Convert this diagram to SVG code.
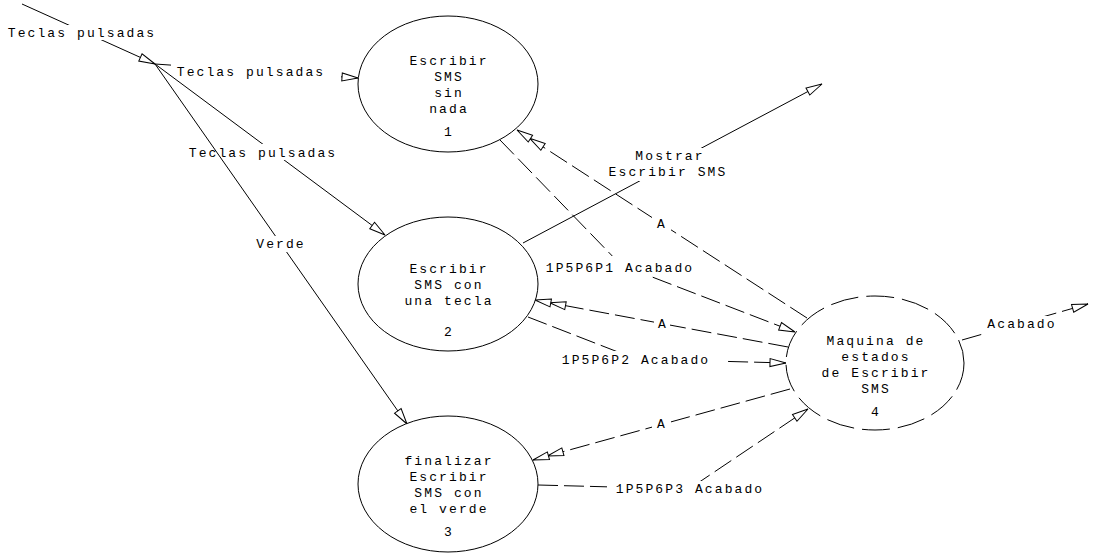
<svg xmlns="http://www.w3.org/2000/svg" width="1094" height="556" viewBox="0 0 1094 556">
  <style>
    .node { fill: #fff; stroke: #000; stroke-width: 1; }
    .node.dashed { stroke-dasharray: 28 8; }
    .txt { font-family: "Liberation Mono", "DejaVu Sans Mono", monospace; font-size: 13px; letter-spacing: 2.1px; fill: #000; text-anchor: middle; }
    .flow { fill: none; stroke: #000; stroke-width: 1; }
    .flow.dashed { stroke-dasharray: 20 6; }
    .single { marker-end: url(#arrow); }
    .double { marker-end: url(#arrow2); }
    .bg { fill: #fff; stroke: none; }
  </style>
  <defs>
    <marker id="arrow" markerUnits="userSpaceOnUse" markerWidth="40" markerHeight="20" viewBox="-20 -10 40 20" refX="0" refY="0" orient="auto" overflow="visible">
      <path d="M0,0 L-16,-4 L-16,4 Z" fill="#fff" stroke="#000" stroke-width="1" stroke-dasharray="none"/>
    </marker>
    <marker id="arrow2" markerUnits="userSpaceOnUse" markerWidth="60" markerHeight="20" viewBox="-40 -10 60 20" refX="0" refY="0" orient="auto" overflow="visible">
      <path d="M-15,0 L-31,-4 L-31,4 Z" fill="#fff" stroke="#000" stroke-width="1" stroke-dasharray="none"/>
      <path d="M0,0 L-16,-4 L-16,4 Z" fill="#fff" stroke="#000" stroke-width="1" stroke-dasharray="none"/>
    </marker>
  </defs>
  <rect width="1094" height="556" fill="#fff"/>

  <!-- data flows -->
  <g id="connectors">
    <!-- external input: key presses -->
    <line class="flow single" x1="22" y1="4" x2="155" y2="64"/>
    <rect class="bg" x="5" y="25" width="152" height="15"/>
    <text class="txt" x="82" y="37">Teclas pulsadas</text>

    <line class="flow single" x1="155" y1="64" x2="358" y2="78"/>
    <rect class="bg" x="171" y="63" width="170" height="17"/>
    <text class="txt" x="251" y="76">Teclas pulsadas</text>

    <line class="flow single" x1="155" y1="64" x2="385" y2="235"/>
    <rect class="bg" x="186" y="144" width="152" height="16"/>
    <text class="txt" x="263" y="157">Teclas pulsadas</text>

    <line class="flow single" x1="155" y1="64" x2="407" y2="424"/>
    <rect class="bg" x="254" y="236" width="52" height="16"/>
    <text class="txt" x="281" y="248">Verde</text>

    <!-- output: show screen -->
    <line class="flow single" x1="523" y1="243" x2="822" y2="84"/>
    <rect class="bg" x="606" y="148" width="123" height="33"/>
    <text class="txt" x="670" y="160">Mostrar</text>
    <text class="txt" x="668" y="176">Escribir SMS</text>

    <!-- state 1 -> state machine -->
    <polyline class="flow dashed single" points="500,140 621,265 795,332"/>
    <rect class="bg" x="542" y="256" width="154" height="20"/>
    <text class="txt" x="620" y="272">1P5P6P1 Acabado</text>

    <!-- state machine -> state 1 -->
    <line class="flow dashed double" x1="807" y1="318" x2="517" y2="130"/>
    <rect class="bg" x="652" y="216" width="19" height="16"/>
    <text class="txt" x="662" y="228">A</text>

    <!-- state machine -> state 2 -->
    <line class="flow dashed double" x1="788" y1="347" x2="535" y2="300"/>
    <rect class="bg" x="654" y="317" width="16" height="15"/>
    <text class="txt" x="663" y="328">A</text>

    <!-- state 2 -> state machine -->
    <polyline class="flow dashed single" points="528,317 636,359 786,363"/>
    <rect class="bg" x="560" y="351" width="164" height="17"/>
    <text class="txt" x="636" y="364">1P5P6P2 Acabado</text>

    <!-- state machine -> state 3 -->
    <line class="flow dashed double" x1="790" y1="389" x2="533" y2="460"/>
    <rect class="bg" x="652" y="417" width="19" height="15"/>
    <text class="txt" x="662" y="428">A</text>

    <!-- state 3 -> state machine -->
    <polyline class="flow dashed single" points="538,485 689,489 808,409"/>
    <rect class="bg" x="607" y="481" width="158" height="15"/>
    <text class="txt" x="690" y="493">1P5P6P3 Acabado</text>

    <!-- state machine output -->
    <line class="flow dashed single" x1="962" y1="340" x2="1088" y2="304"/>
    <rect class="bg" x="984" y="316" width="74" height="18"/>
    <text class="txt" x="1022" y="328">Acabado</text>
  </g>

  <g id="node1">
    <ellipse class="node" cx="448" cy="84" rx="90" ry="68"/>
    <text class="txt" x="449" y="65">Escribir</text>
    <text class="txt" x="449" y="81">SMS</text>
    <text class="txt" x="449" y="97">sin</text>
    <text class="txt" x="449" y="113">nada</text>
    <text class="txt" x="449" y="136">1</text>
  </g>

  <g id="node2">
    <ellipse class="node" cx="448" cy="284" rx="90" ry="67"/>
    <text class="txt" x="449" y="273">Escribir</text>
    <text class="txt" x="449" y="289">SMS con</text>
    <text class="txt" x="449" y="305">una tecla</text>
    <text class="txt" x="449" y="336">2</text>
  </g>

  <g id="node3">
    <ellipse class="node" cx="448" cy="484" rx="90" ry="68"/>
    <text class="txt" x="449" y="465">finalizar</text>
    <text class="txt" x="449" y="481">Escribir</text>
    <text class="txt" x="449" y="497">SMS con</text>
    <text class="txt" x="449" y="513">el verde</text>
    <text class="txt" x="449" y="536">3</text>
  </g>

  <g id="node4">
    <ellipse class="node dashed" cx="875" cy="363" rx="89" ry="67"/>
    <text class="txt" x="876" y="345">Maquina de</text>
    <text class="txt" x="876" y="361">estados</text>
    <text class="txt" x="876" y="377">de Escribir</text>
    <text class="txt" x="876" y="393">SMS</text>
    <text class="txt" x="876" y="416">4</text>
  </g>
</svg>
